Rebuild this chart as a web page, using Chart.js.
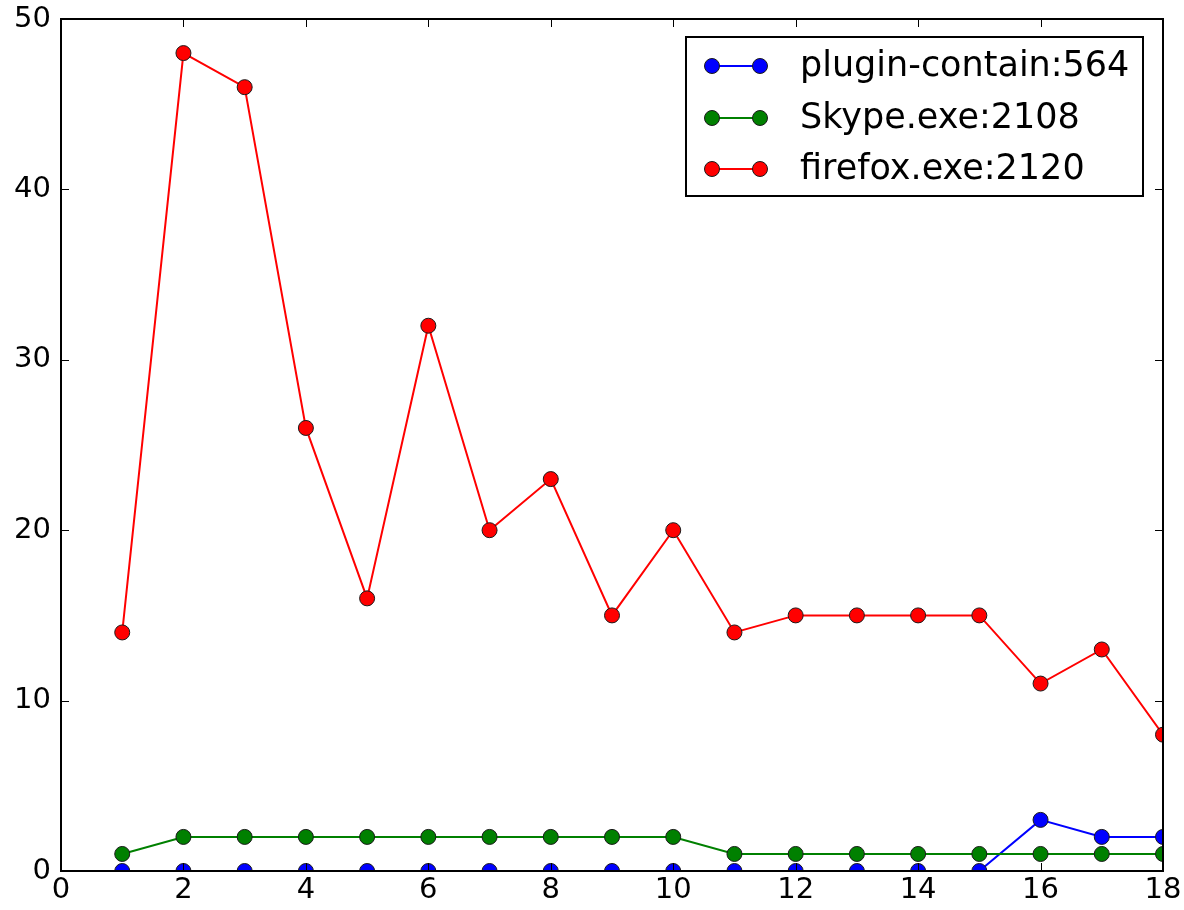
<!DOCTYPE html>
<html>
<head>
<meta charset="utf-8">
<script src="https://cdn.jsdelivr.net/npm/chart.js@4"></script>
<style>
html,body{margin:0;padding:0;background:#fff;}
#wrap{width:1184px;height:910px;position:relative;}
</style>
</head>
<body>
<div id="wrap"><canvas id="c" width="1184" height="910"></canvas></div>
<script>
const xValues = [1,2,3,4,5,6,7,8,9,10,11,12,13,14,15,16,17,18];
const seriesNames = ["plugin-contain:564", "Skype.exe:2108", "firefox.exe:2120"];
const pluginContain = [0,0,0,0,0,0,0,0,0,0,0,0,0,0,0,3,2,2];
const skype = [1,2,2,2,2,2,2,2,2,2,1,1,1,1,1,1,1,1];
const firefox = [14,48,46,26,16,32,20,23,15,20,14,15,15,15,15,11,13,8];
const xTicks = [0,2,4,6,8,10,12,14,16,18];
const yTicks = [0,10,20,30,40,50];
const colors = ["#0000ff", "#008000", "#ff0000"];

const FONT = "'DejaVu Sans', sans-serif";

function toPts(vals){ return xValues.map((x,i)=>({x:x, y:vals[i]})); }

function ds(label, vals, color, order){
  return {
    label: label, data: toPts(vals), borderColor: color, backgroundColor: color,
    borderWidth: 2, pointRadius: 7.5, pointHoverRadius: 7.5,
    pointBorderColor: '#1a1a1a', pointBorderWidth: 1, pointBackgroundColor: color,
    tension: 0, clip: 0, order: order
  };
}

const frameTicks = {
  id: 'frameTicks',
  afterDatasetsDraw(chart){
    const ctx = chart.ctx, a = chart.chartArea;
    const xs = chart.scales.x, ys = chart.scales.y;
    ctx.save();
    ctx.strokeStyle = '#000';
    ctx.lineWidth = 1;
    const L = 8;
    ctx.beginPath();
    xTicks.forEach(v=>{
      const px = Math.round(xs.getPixelForValue(v)) + 0.5;
      ctx.moveTo(px, a.bottom); ctx.lineTo(px, a.bottom - L);
      ctx.moveTo(px, a.top); ctx.lineTo(px, a.top + L);
    });
    yTicks.forEach(v=>{
      const py = Math.round(ys.getPixelForValue(v)) + 0.5;
      ctx.moveTo(a.left, py); ctx.lineTo(a.left + L, py);
      ctx.moveTo(a.right, py); ctx.lineTo(a.right - L, py);
    });
    ctx.stroke();
    ctx.lineWidth = 2;
    ctx.strokeRect(a.left, a.top, a.right - a.left, a.bottom - a.top);
    ctx.restore();
  }
};

const mplLegend = {
  id: 'mplLegend',
  afterDraw(chart){
    const ctx = chart.ctx;
    const bx = 686, by = 37, bw = 457, bh = 159;
    ctx.save();
    ctx.fillStyle = '#fff';
    ctx.fillRect(bx, by, bw, bh);
    ctx.strokeStyle = '#000';
    ctx.lineWidth = 2;
    ctx.strokeRect(bx, by, bw, bh);
    const rows = [66, 118, 169];
    chart.data.datasets.forEach((d, i) => {
      const y = rows[i];
      ctx.strokeStyle = d.borderColor;
      ctx.lineWidth = 2;
      ctx.beginPath(); ctx.moveTo(712, y); ctx.lineTo(760, y); ctx.stroke();
      [712, 760].forEach(cx => {
        ctx.beginPath(); ctx.arc(cx, y, 7.5, 0, Math.PI*2);
        ctx.fillStyle = d.borderColor; ctx.fill();
        ctx.strokeStyle = '#1a1a1a'; ctx.lineWidth = 1; ctx.stroke();
      });
      ctx.fillStyle = '#000';
      ctx.font = "35px " + FONT;
      ctx.textBaseline = 'middle';
      ctx.textAlign = 'left';
      ctx.fillText(d.label, 800, y + 1);
    });
    ctx.restore();
  }
};

new Chart(document.getElementById('c'), {
  type: 'line',
  data: {
    datasets: [
      ds(seriesNames[0], pluginContain, colors[0], 3),
      ds(seriesNames[1], skype, colors[1], 2),
      ds(seriesNames[2], firefox, colors[2], 1)
    ]
  },
  options: {
    responsive: false,
    animation: false,
    events: [],
    layout: { padding: { top: 19, right: 21, left: 0, bottom: 0 } },
    plugins: { legend: { display: false }, tooltip: { enabled: false } },
    scales: {
      x: {
        type: 'linear', min: 0, max: 18,
        grid: { display: false, drawTicks: false },
        border: { display: false },
        afterBuildTicks(s){ s.ticks = xTicks.map(v=>({value:v})); },
        afterFit(s){ s.height = 39; s.paddingLeft = 0; s.paddingRight = 0; },
        ticks: { color: '#000', font: { family: FONT, size: 29 }, padding: 2, maxRotation: 0, autoSkip: false }
      },
      y: {
        type: 'linear', min: 0, max: 50,
        grid: { display: false, drawTicks: false },
        border: { display: false },
        afterBuildTicks(s){ s.ticks = yTicks.map(v=>({value:v})); },
        afterFit(s){ s.width = 61; s.paddingTop = 0; s.paddingBottom = 0; },
        ticks: { color: '#000', font: { family: FONT, size: 29 }, padding: 10 }
      }
    }
  },
  plugins: [frameTicks, mplLegend]
});
</script>
</body>
</html>
